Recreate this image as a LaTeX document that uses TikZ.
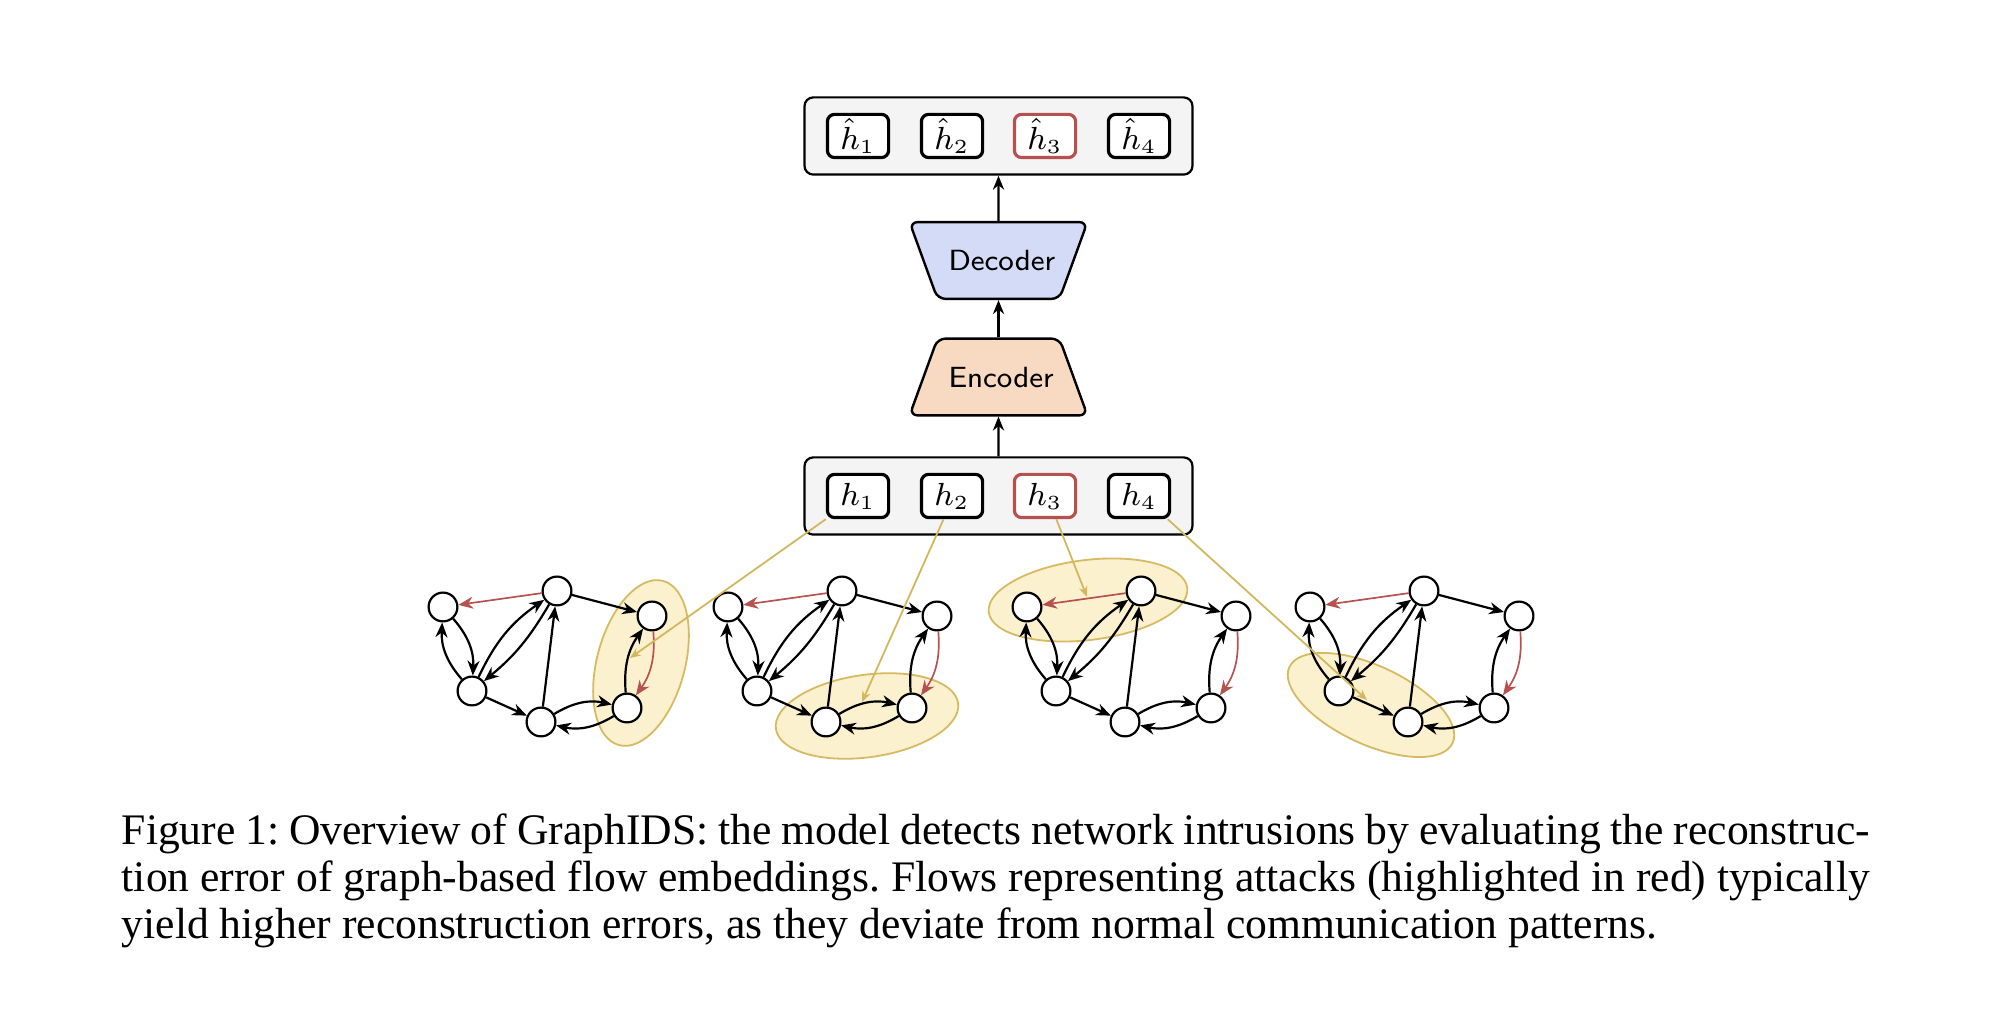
\documentclass[tikz,border=0pt]{standalone}
\usepackage{fontspec}
\newfontfamily\capfont{Liberation Serif}
\usetikzlibrary{arrows.meta,shapes.geometric}
\definecolor{boxgray}{HTML}{F4F4F4}
\definecolor{attred}{HTML}{B5514F}
\definecolor{decblue}{HTML}{D3DBF7}
\definecolor{encpeach}{HTML}{F8D9C1}
\definecolor{hlfill}{HTML}{FCF1CF}
\definecolor{hldraw}{HTML}{D6BA62}
\definecolor{linkgold}{HTML}{D3B75E}
\begin{document}
\begin{tikzpicture}[x=0.25pt,y=-0.25pt,
  panel/.style={draw=black, line width=0.55pt, fill=boxgray, rounded corners=2.2pt,
    minimum width=97pt, minimum height=19.3pt, inner sep=0pt},
  emb/.style={draw=black, line width=0.8pt, fill=white, rounded corners=1.8pt,
    minimum width=15.3pt, minimum height=10.8pt, inner sep=0pt, font=\fontsize{7.6}{8}\selectfont},
  attack/.style={draw=attred},
  coder/.style={trapezium, draw=black, line width=0.6pt,
    rounded corners=2pt, text width=25pt, align=center, text height=5.2pt, text depth=0pt,
    inner xsep=2.75pt, inner ysep=7pt,
    font=\sffamily\fontsize{7.3}{8}\selectfont},
  uparr/.style={line width=0.55pt, -{Stealth[length=3.5pt,width=2.8pt]}},
  vtx/.style={circle, draw=black, line width=0.55pt, fill=white, minimum size=7.2pt, inner sep=0pt},
  gedge/.style={draw=black, line width=0.55pt, -{Stealth[length=3.7pt,width=3pt]}},
  redge/.style={draw=attred, line width=0.42pt, -{Stealth[length=3.7pt,width=3pt]}},
  hl/.style={fill=hlfill, draw=hldraw, line width=0.45pt},
  link/.style={draw=linkgold, line width=0.45pt, -{Stealth[length=2.7pt,width=2.2pt]}}
]
\useasboundingbox (0,0) rectangle (1994,1014);

% panels
\node[panel] (tpanel) at (998.5,136) {};
\node[panel] (hpanel) at (998.5,496) {};
\node[emb] (t1) at (858,136) {$\hat{h}_1$};
\node[emb] (t2) at (952,136) {$\hat{h}_2$};
\node[emb,attack] (t3) at (1045,136) {$\hat{h}_3$};
\node[emb] (t4) at (1139,136) {$\hat{h}_4$};
\node[emb] (h1) at (858,496) {$h_1$};
\node[emb] (h2) at (952,496) {$h_2$};
\node[emb,attack] (h3) at (1045,496) {$h_3$};
\node[emb] (h4) at (1139,496) {$h_4$};

% encoder / decoder
\node[coder, fill=encpeach, trapezium left angle=70, trapezium right angle=70] (enc) at (998.5,377) {Encoder};
\node[coder, fill=decblue, trapezium left angle=110, trapezium right angle=110] (dec) at (998.5,260.5) {Decoder};
\draw[uparr] (hpanel.north) -- (enc.south);
\draw[uparr] (enc.north) -- (dec.south);
\draw[uparr] (dec.north) -- (tpanel.south);

% highlight ellipses
\begin{scope}[shift={(641,663)}, rotate=75]
  \draw[hl] (0,0) ellipse [x radius=21.25pt, y radius=11pt];
\end{scope}
\begin{scope}[shift={(867,716)}, rotate=8]
  \draw[hl] (0,0) ellipse [x radius=23pt, y radius=10.3pt];
\end{scope}
\begin{scope}[shift={(1088,600)}, rotate=7]
  \draw[hl] (0,0) ellipse [x radius=25pt, y radius=10pt];
\end{scope}
\begin{scope}[shift={(1371,705)}, rotate=-25]
  \draw[hl] (0,0) ellipse [x radius=22.5pt, y radius=9.8pt];
\end{scope}

% graphs
\foreach \g/\dx in {1/0,2/285,3/584,4/867}{
  \begin{scope}[shift={(\dx,0)}]
    \node[vtx] (A\g) at (443,607) {};
    \node[vtx] (B\g) at (557,591) {};
    \node[vtx] (C\g) at (652,616) {};
    \node[vtx] (D\g) at (472,691) {};
    \node[vtx] (E\g) at (541,722) {};
    \node[vtx] (F\g) at (627,708) {};
    \draw[redge] (B\g) -- (A\g);
    \draw[gedge] (B\g) -- (C\g);
    \draw[gedge] (D\g) to[bend left=22] (A\g);
    \draw[gedge] (A\g) to[bend left=22] (D\g);
    \draw[gedge] (D\g) to[bend left=15] (B\g);
    \draw[gedge] (B\g) to[bend left=10] (D\g);
    \draw[gedge] (E\g) -- (B\g);
    \draw[gedge] (D\g) -- (E\g);
    \draw[gedge] (E\g) to[bend left=22] (F\g);
    \draw[gedge] (F\g) to[bend left=22] (E\g);
    \draw[gedge] (F\g) to[bend left=20] (C\g);
    \draw[redge] (C\g) to[bend left=20] (F\g);
  \end{scope}
}

% links from embeddings to highlighted regions
\coordinate (g1) at (630,658);
\coordinate (g2) at (862,702);
\coordinate (g3) at (1087,597);
\coordinate (g4) at (1367,700);
\draw[link] (h1.south west) -- (g1);
\draw[link] (h2.-110) -- (g2);
\draw[link] (h3.-64) -- (g3);
\draw[link] (h4.-39) -- (g4);

% caption
\node[font=\capfont\fontsize{10.9}{11.75}\selectfont, text width=437pt, align=justify,
  inner sep=0pt, anchor=north west] (cap) at (121,813)
  {\frenchspacing Figure 1: Overview of GraphIDS: the model detects network intrusions by evaluating the reconstruc-\linebreak
   tion error of graph-based flow embeddings. Flows representing attacks (highlighted in red) typically\linebreak
   yield higher reconstruction errors, as they deviate from normal communication patterns.};
\end{tikzpicture}
\end{document}
